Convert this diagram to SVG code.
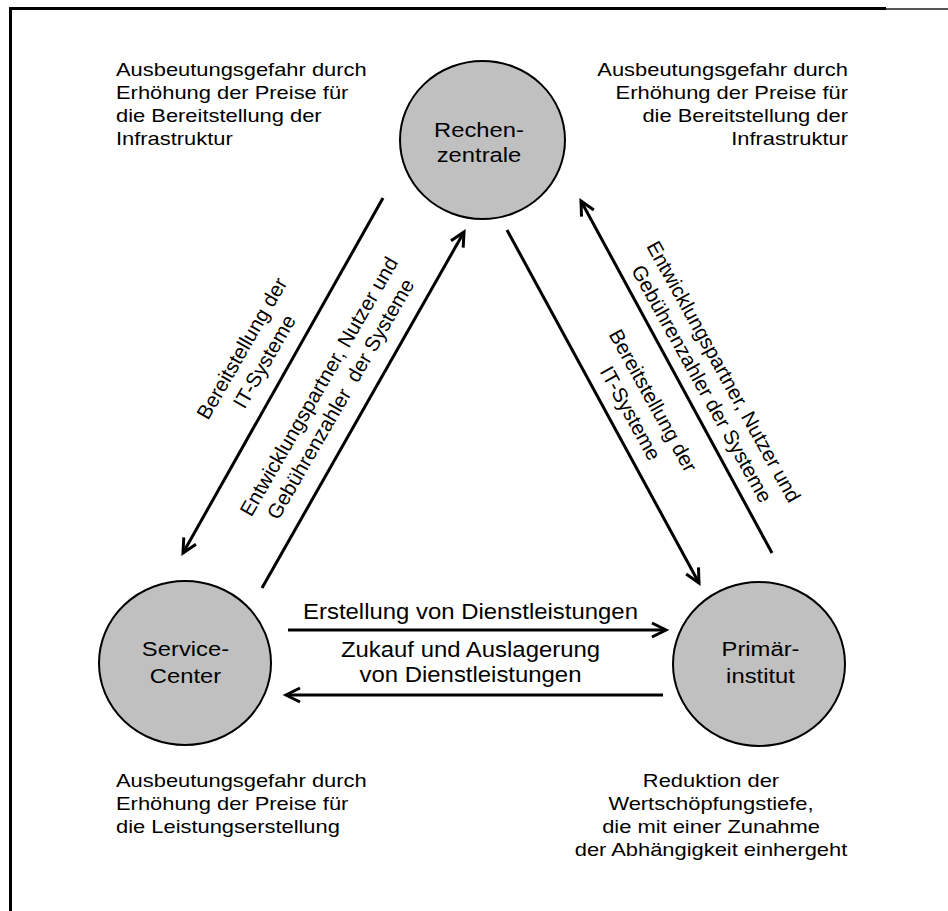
<svg xmlns="http://www.w3.org/2000/svg" width="948" height="911" viewBox="0 0 948 911">
<style>
text{font-family:"Liberation Sans",Arial,Helvetica,sans-serif;fill:#000}
.corner{font-size:18px}
.node{font-size:19.5px;text-anchor:middle}
.mid{font-size:22px;text-anchor:middle}
.rot{font-size:20.5px;text-anchor:middle}
.circ{fill:#c0c0c0;stroke:#000;stroke-width:2}
.conn{stroke:#000;stroke-width:3;fill:none;marker-end:url(#ah)}
</style>
<defs>
<marker id="ah" markerUnits="userSpaceOnUse" orient="auto" markerWidth="20" markerHeight="20" refX="0" refY="0" overflow="visible">
<path d="M-14,-7 L0,0 L-14,7" fill="none" stroke="#000" stroke-width="3"/>
</marker>
</defs>
<rect width="948" height="911" fill="#fff"/>
<path d="M10.5,911 V8.5 H886" fill="none" stroke="#000" stroke-width="3"/>
<path d="M886,9 H948" fill="none" stroke="#555" stroke-width="2"/>

<g id="connectors">
<line class="conn" x1="383" y1="198" x2="183" y2="553"/>
<line class="conn" x1="262" y1="588" x2="464" y2="232"/>
<line class="conn" x1="507" y1="230" x2="699" y2="583"/>
<line class="conn" x1="772" y1="553" x2="581" y2="201"/>
<line class="conn" x1="288" y1="630" x2="666" y2="630"/>
<line class="conn" x1="663" y1="695" x2="286" y2="695"/>
</g>

<g id="rechenzentrale">
<ellipse class="circ" cx="482.5" cy="140" rx="82.5" ry="79"/>
<g transform="translate(479,0) scale(1.22,1)">
<text class="node" x="0" y="137">Rechen-</text>
<text class="node" x="0" y="162">zentrale</text>
</g>
</g>

<g id="service-center">
<ellipse class="circ" cx="185" cy="663" rx="86" ry="82"/>
<g transform="translate(185.5,0) scale(1.22,1)">
<text class="node" x="0" y="656">Service-</text>
<text class="node" x="0" y="683">Center</text>
</g>
</g>

<g id="primaerinstitut">
<ellipse class="circ" cx="759" cy="664" rx="86" ry="82"/>
<g transform="translate(760.5,0) scale(1.22,1)">
<text class="node" x="0" y="656">Primär-</text>
<text class="node" x="0" y="683">institut</text>
</g>
</g>

<g id="label-left-down" transform="translate(248,352) rotate(-60)">
<text class="rot" x="0" y="0">Bereitstellung der</text>
<text class="rot" x="0" y="26">IT-Systeme</text>
</g>
<g id="label-left-up" transform="translate(325,390) rotate(-60)">
<text class="rot" x="0" y="0">Entwicklungspartner, Nutzer und</text>
<text class="rot" x="0" y="25">Gebührenzahler&#160; der Systeme</text>
</g>
<g id="label-right-up" transform="translate(717.5,375) rotate(61)">
<text class="rot" x="0" y="0">Entwicklungspartner, Nutzer und</text>
<text class="rot" x="0" y="25">Gebührenzahler der Systeme</text>
</g>
<g id="label-right-down" transform="translate(647,404) rotate(61)">
<text class="rot" x="0" y="0">Bereitstellung der</text>
<text class="rot" x="0" y="26">IT-Systeme</text>
</g>

<g id="label-middle" transform="translate(470.5,0) scale(1.087,1)">
<text class="mid" x="0" y="619">Erstellung von Dienstleistungen</text>
<text class="mid" x="0" y="657">Zukauf und Auslagerung</text>
<text class="mid" x="0" y="682">von Dienstleistungen</text>
</g>

<g id="note-top-left" transform="translate(116,0) scale(1.217,1)">
<text class="corner" x="0" y="76">Ausbeutungsgefahr durch</text>
<text class="corner" x="0" y="99">Erhöhung der Preise für</text>
<text class="corner" x="0" y="122">die Bereitstellung der</text>
<text class="corner" x="0" y="145">Infrastruktur</text>
</g>
<g id="note-top-right" transform="translate(848,0) scale(1.217,1)">
<text class="corner" x="0" y="76" text-anchor="end">Ausbeutungsgefahr durch</text>
<text class="corner" x="0" y="99" text-anchor="end">Erhöhung der Preise für</text>
<text class="corner" x="0" y="122" text-anchor="end">die Bereitstellung der</text>
<text class="corner" x="0" y="145" text-anchor="end">Infrastruktur</text>
</g>
<g id="note-bottom-left" transform="translate(116,0) scale(1.217,1)">
<text class="corner" x="0" y="787">Ausbeutungsgefahr durch</text>
<text class="corner" x="0" y="810">Erhöhung der Preise für</text>
<text class="corner" x="0" y="833">die Leistungserstellung</text>
</g>
<g id="note-bottom-right" transform="translate(711,0) scale(1.217,1)">
<text class="corner" x="0" y="787" text-anchor="middle">Reduktion der</text>
<text class="corner" x="0" y="810" text-anchor="middle">Wertschöpfungstiefe,</text>
<text class="corner" x="0" y="833" text-anchor="middle">die mit einer Zunahme</text>
<text class="corner" x="0" y="856" text-anchor="middle">der Abhängigkeit einhergeht</text>
</g>
</svg>
